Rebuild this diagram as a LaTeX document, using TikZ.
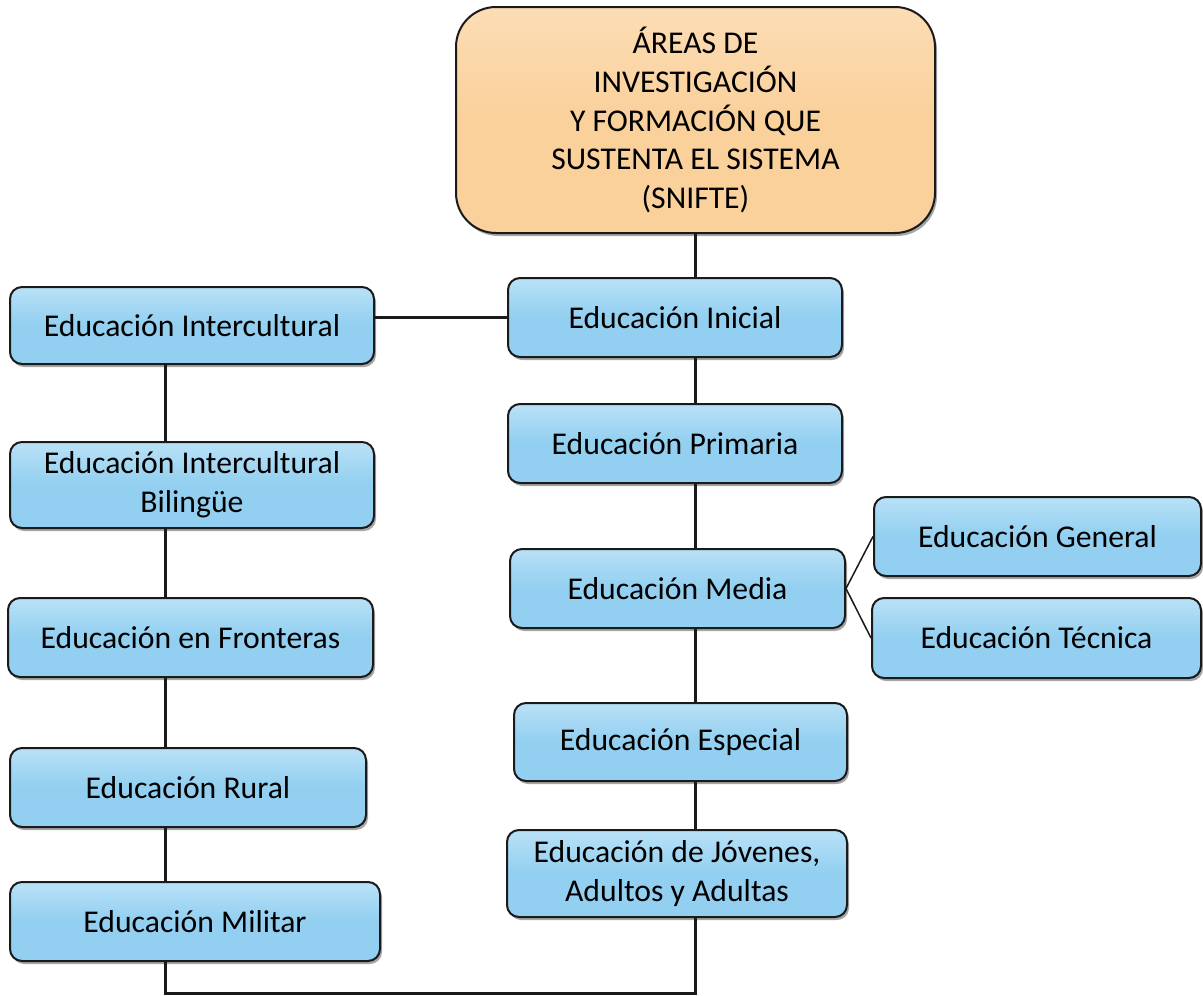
\documentclass[tikz,border=0pt]{standalone}
\usepackage{fontspec}
\setmainfont{Carlito}
\usetikzlibrary{shadows}
\definecolor{bluebox}{HTML}{92CFF0}
\definecolor{bluetop}{HTML}{B9E1F7}
\definecolor{orangebox}{HTML}{FAD09B}
\definecolor{orangetop}{HTML}{FCDDB5}
\definecolor{edgecol}{HTML}{1A1A1A}
\tikzset{
  boxbase/.style={draw=edgecol, line width=2pt, align=center, inner sep=2pt,
    font=\fontsize{31.7}{38.6}\selectfont,
    drop shadow={shadow xshift=2pt, shadow yshift=-3pt, fill=black, opacity=0.35}},
  bluebx/.style={boxbase, rounded corners=12pt, top color=bluetop, bottom color=bluebox,
    middle color=bluebox},
  topbx/.style={boxbase, rounded corners=40pt, top color=orangetop, bottom color=orangebox,
    middle color=orangebox},
  link/.style={line width=3pt, draw=edgecol},
  thinlink/.style={line width=1.5pt, draw=edgecol}
}
\begin{document}
\begin{tikzpicture}[x=1pt,y=-1pt]
\useasboundingbox (0,0) rectangle (1203,996);
\coordinate (lx) at (165,0);
\coordinate (bot) at (0,993);
\node[topbx, minimum width=479pt, minimum height=226pt] (top) at (695.5,120)
  {ÁREAS DE\\ INVESTIGACIÓN\\ Y FORMACIÓN QUE\\ SUSTENTA EL SISTEMA\\ (SNIFTE)};
\node[bluebx, minimum width=334pt, minimum height=79pt] (ini) at (675,317.5) {Educación Inicial};
\node[bluebx, minimum width=364pt, minimum height=77pt] (inter) at (192,325.5) {Educación Intercultural};
\node[bluebx, minimum width=334pt, minimum height=79pt] (prim) at (675,443.5) {Educación Primaria};
\node[bluebx, minimum width=335pt, minimum height=79pt] (media) at (677.5,588.5) {Educación Media};
\node[bluebx, minimum width=327pt, minimum height=79pt] (gen) at (1037.5,536.5) {Educación General};
\node[bluebx, minimum width=329pt, minimum height=80pt] (tec) at (1036.5,638) {Educación Técnica};
\node[bluebx, minimum width=333pt, minimum height=78pt] (esp) at (680.5,742) {Educación Especial};
\node[bluebx, minimum width=340pt, minimum height=87pt] (jov) at (677,873.5) {Educación de Jóvenes,\\ Adultos y Adultas};
\node[bluebx, minimum width=364pt, minimum height=86pt] (bil) at (192,485) {Educación Intercultural\\ Bilingüe};
\node[bluebx, minimum width=365pt, minimum height=79pt] (fron) at (190.5,637.5) {Educación en Fronteras};
\node[bluebx, minimum width=356pt, minimum height=79pt] (rural) at (188,787.5) {Educación Rural};
\node[bluebx, minimum width=370pt, minimum height=79pt] (mil) at (195,921.5) {Educación Militar};
% right spine
\draw[link] (top.south) -- (top.south |- ini.north);
\draw[link] (top.south |- ini.south) -- (top.south |- prim.north);
\draw[link] (top.south |- prim.south) -- (top.south |- media.north);
\draw[link] (top.south |- media.south) -- (top.south |- esp.north);
\draw[link] (top.south |- esp.south) -- (top.south |- jov.north);
% link to left column
\draw[link] (ini.west) -- (ini.west -| inter.east);
% left spine
\draw[link] (lx |- inter.south) -- (lx |- bil.north);
\draw[link] (lx |- bil.south) -- (lx |- fron.north);
\draw[link] (lx |- fron.south) -- (lx |- rural.north);
\draw[link] (lx |- rural.south) -- (lx |- mil.north);
% bottom loop
\draw[link] (top.south |- jov.south) -- (top.south |- bot) -- (lx |- bot) -- (lx |- mil.south);
% media branches
\draw[thinlink] (media.east) -- (gen.west);
\draw[thinlink] (media.east) -- (tec.west);
\end{tikzpicture}
\end{document}
